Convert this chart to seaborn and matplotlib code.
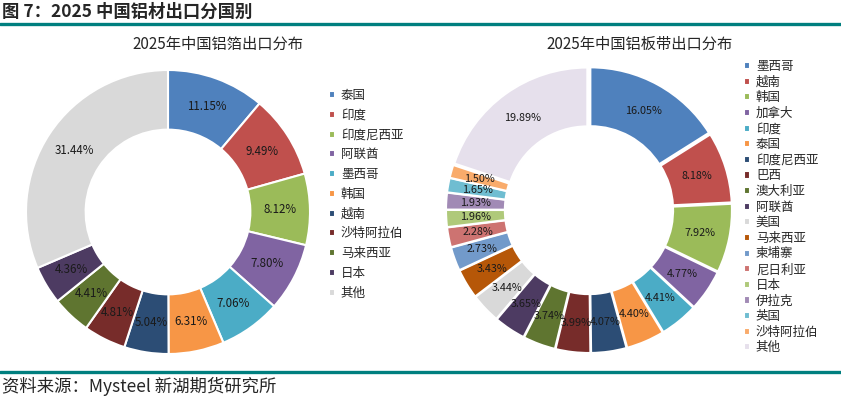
import matplotlib
matplotlib.use("Agg")
import matplotlib.pyplot as plt
import seaborn as sns
from matplotlib.lines import Line2D

# 铝箔
foil_countries = ['泰国', '印度', '印度尼西亚', '阿联酋', '墨西哥', '韩国', '越南',
                  '沙特阿拉伯', '马来西亚', '日本', '其他']
foil_values = [11.15, 9.49, 8.12, 7.80, 7.06, 6.31, 5.04, 4.81, 4.41, 4.36, 31.44]
foil_colors = ['#4F81BD', '#C0504D', '#9BBB59', '#8064A2', '#4BACC6', '#F79646',
               '#2C4D75', '#772C2A', '#5F7530', '#4D3B62', '#D9D9D9']

# 铝板带
plate_countries = ['墨西哥', '越南', '韩国', '加拿大', '印度', '泰国', '印度尼西亚', '巴西',
                   '澳大利亚', '阿联酋', '美国', '马来西亚', '柬埔寨', '尼日利亚', '日本',
                   '伊拉克', '英国', '沙特阿拉伯', '其他']
plate_values = [16.05, 8.18, 7.92, 4.77, 4.41, 4.40, 4.07, 3.99, 3.74, 3.65, 3.44,
                3.43, 2.73, 2.28, 1.96, 1.93, 1.65, 1.50, 19.89]
plate_colors = ['#4F81BD', '#C0504D', '#9BBB59', '#8064A2', '#4BACC6', '#F79646',
                '#2C4D75', '#772C2A', '#5F7530', '#4D3B62', '#D9D9D9', '#B65708',
                '#729ACA', '#CD7371', '#AFC97A', '#A18AB5', '#6FBDD1', '#F9AB6B', '#E6E0EC']

sns.set_theme(style='white')
plt.rcParams['font.family'] = ['Noto Sans CJK SC', 'DejaVu Sans']

W, H = 841, 398
fig = plt.figure(figsize=(W / 100, H / 100), dpi=100)


def px_axes(x0, top, size):
    return fig.add_axes([x0 / W, 1 - (top + size) / H, size / W, size / H])


def donut(ax, values, colors, explode, lim, fs):
    it = iter(values)
    wedges, _, autotexts = ax.pie(values, colors=colors, startangle=90, counterclock=False,
                                  explode=[explode] * len(values),
                                  autopct=lambda p: f'{next(it):.2f}%', pctdistance=0.79,
                                  wedgeprops=dict(width=0.42, edgecolor='white', linewidth=1.5),
                                  textprops=dict(fontsize=fs, color='#1a1a1a'))
    ax.set_xlim(-lim, lim)
    ax.set_ylim(-lim, lim)
    ax.set_aspect('equal')
    return wedges


ax1 = px_axes(26, 70, 284)
w1 = donut(ax1, foil_values, foil_colors, 0.0, 1.0, 8.3)
ax2 = px_axes(446, 67, 286)
w2 = donut(ax2, plate_values, plate_colors, 0.02, 1.02, 7.8)

fig.text(218 / W, 1 - 44 / H, '2025年中国铝箔出口分布', ha='center', va='center', fontsize=11)
fig.text(640 / W, 1 - 44 / H, '2025年中国铝板带出口分布', ha='center', va='center', fontsize=11)

fig.legend(w1, foil_countries, loc='upper left', bbox_to_anchor=(329 / W, 1 - 89 / H),
           frameon=False, fontsize=9, handlelength=0.5, handleheight=0.5,
           handletextpad=0.45, labelspacing=0.54, borderpad=0, borderaxespad=0)
fig.legend(w2, plate_countries, loc='upper left', bbox_to_anchor=(744 / W, 1 - 60 / H),
           frameon=False, fontsize=9, handlelength=0.5, handleheight=0.5,
           handletextpad=0.45, labelspacing=0.21, borderpad=0, borderaxespad=0)

# 标题与来源
fig.text(2 / W, 1 - 12 / H, '图 7：2025 中国铝材出口分国别', ha='left', va='center',
         fontsize=12.5, fontweight='bold')
fig.add_artist(Line2D([0, 1], [1 - 23.5 / H] * 2, color='#007F7F', linewidth=2.4))
fig.add_artist(Line2D([0, 1], [1 - 371.5 / H] * 2, color='#007F7F', linewidth=2.4))
fig.text(2 / W, 1 - 386 / H, '资料来源：Mysteel 新湖期货研究所', ha='left', va='center',
         fontsize=12.5)

fig.savefig('out.png', dpi=100, facecolor='white')
